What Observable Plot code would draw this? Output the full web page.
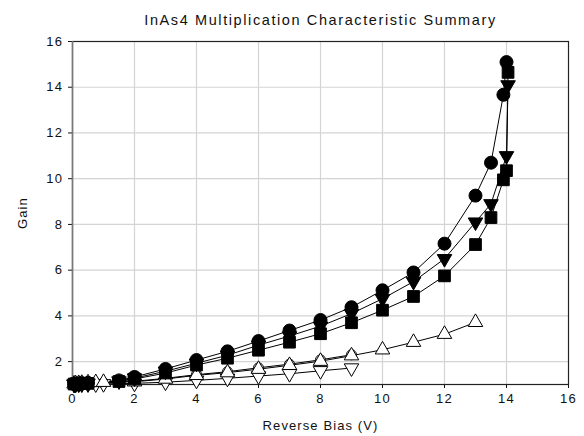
<!DOCTYPE html>
<html>
<head>
<meta charset="utf-8">
<script src="https://cdn.jsdelivr.net/npm/d3@7"></script>
<script src="https://cdn.jsdelivr.net/npm/@observablehq/plot@0.6"></script>
<style>
  html, body { margin: 0; padding: 0; background: #fff; }
  #chart svg { display: block; }
  #chart g[aria-label="x-axis tick label"] text,
  #chart g[aria-label="y-axis tick label"] text { letter-spacing: 1.4px; }
  #chart g[aria-label="x-axis label"] text,
  #chart g[aria-label="y-axis label"] text { letter-spacing: 1.1px; }
  #chart g.title-text text { letter-spacing: 1.6px; }
</style>
</head>
<body>
<div id="chart"></div>
<script>
// ---- data ----
const title = "InAs4 Multiplication Characteristic Summary";
const xLabel = "Reverse Bias (V)";
const yLabel = "Gain";
const xTicks = [0, 2, 4, 6, 8, 10, 12, 14, 16];
const yTicks = [2, 4, 6, 8, 10, 12, 14, 16];

const filledCircleX = [0.05, 0.1, 0.2, 0.3, 0.5, 1.5, 2, 3, 4, 5, 6, 7, 8, 9, 10, 11, 12, 13, 13.5, 13.9, 14.0];
const filledCircleG = [1.03, 1.04, 1.05, 1.06, 1.07, 1.18, 1.33, 1.68, 2.07, 2.45, 2.9, 3.36, 3.82, 4.38, 5.12, 5.9, 7.16, 9.26, 10.7, 13.67, 15.1];

const filledTriDownX = [0.05, 0.1, 0.2, 0.3, 0.5, 1.5, 2, 3, 4, 5, 6, 7, 8, 9, 10, 11, 12, 13, 13.5, 14.0, 14.05];
const filledTriDownG = [1.02, 1.03, 1.04, 1.05, 1.06, 1.15, 1.28, 1.58, 1.93, 2.28, 2.72, 3.12, 3.55, 4.1, 4.75, 5.5, 6.5, 8.1, 8.9, 11.0, 14.1];

const filledSquareX = [0.05, 0.1, 0.2, 0.3, 0.5, 1.5, 2, 3, 4, 5, 6, 7, 8, 9, 10, 11, 12, 13, 13.5, 13.9, 14.0, 14.05];
const filledSquareG = [1.02, 1.03, 1.04, 1.04, 1.05, 1.13, 1.24, 1.5, 1.85, 2.15, 2.5, 2.85, 3.22, 3.7, 4.25, 4.85, 5.75, 7.12, 8.3, 9.95, 10.35, 14.65];

const openCircleX = [0.05, 0.1, 0.2, 0.3, 0.5, 0.75, 1, 2, 3, 4, 5, 6, 7, 8, 9];
const openCircleG = [1.03, 1.04, 1.05, 1.05, 1.06, 1.07, 1.08, 1.14, 1.27, 1.43, 1.56, 1.73, 1.89, 2.08, 2.3];

const openTriUpX = [0.05, 0.1, 0.2, 0.3, 0.5, 0.75, 1, 2, 3, 4, 5, 6, 7, 8, 9, 10, 11, 12, 13];
const openTriUpG = [1.03, 1.04, 1.05, 1.06, 1.08, 1.09, 1.1, 1.12, 1.24, 1.4, 1.52, 1.67, 1.84, 2.02, 2.26, 2.52, 2.85, 3.2, 3.72];

const openTriDownX = [0.05, 0.1, 0.2, 0.3, 0.5, 0.75, 1, 2, 3, 4, 5, 6, 7, 8, 9];
const openTriDownG = [1.0, 1.0, 1.01, 1.01, 1.02, 1.02, 1.03, 1.05, 1.1, 1.18, 1.27, 1.37, 1.47, 1.6, 1.72];

// ---- build table ----
const triangleDown = {
  draw(context, size) {
    const y = -Math.sqrt(size / (Math.sqrt(3) * 3));
    context.moveTo(0, -y * 2);
    context.lineTo(-Math.sqrt(3) * y, y);
    context.lineTo(Math.sqrt(3) * y, y);
    context.closePath();
  }
};

const seriesDefs = [
  {name: "openCircle", xs: openCircleX, gs: openCircleG, symbol: "circle", fill: "white", r: 5},
  {name: "openTriDown", xs: openTriDownX, gs: openTriDownG, symbol: triangleDown, fill: "white", r: 5.4},
  {name: "openTriUp", xs: openTriUpX, gs: openTriUpG, symbol: "triangle", fill: "white", r: 5.4},
  {name: "filledSquare", xs: filledSquareX, gs: filledSquareG, symbol: "square", fill: "black", r: 6.6},
  {name: "filledTriDown", xs: filledTriDownX, gs: filledTriDownG, symbol: triangleDown, fill: "black", r: 5.4},
  {name: "filledCircle", xs: filledCircleX, gs: filledCircleG, symbol: "circle", fill: "black", r: 6.5}
];

const rows = [];
for (const s of seriesDefs) {
  s.xs.forEach((x, i) => rows.push({series: s.name, x, g: s.gs[i]}));
}

const font = "Liberation Sans, Arial, sans-serif";
const marks = [
  Plot.gridX(xTicks.filter(d => d > 0 && d < 16), {stroke: "#d4d4d4", strokeOpacity: 1, strokeWidth: 1.2}),
  Plot.gridY(yTicks.filter(d => d < 16), {stroke: "#d4d4d4", strokeOpacity: 1, strokeWidth: 1.2}),
  Plot.axisX({ticks: xTicks, tickSize: 4, tickPadding: 5, fontSize: 13, label: xLabel, labelAnchor: "center", labelArrow: "none", labelOffset: 45, fontFamily: font}),
  Plot.axisY({ticks: yTicks, tickSize: 4, tickPadding: 5, fontSize: 13, label: yLabel, labelAnchor: "center", labelArrow: "none", labelOffset: 55, fontFamily: font}),
  Plot.frame({stroke: "#222", strokeWidth: 1.2}),
  Plot.ruleX([0], {stroke: "#777", strokeWidth: 1.5}),
  Plot.text([title], {frameAnchor: "top", dy: -27, fontSize: 14.5, fill: "#111", fontFamily: font, className: "title-text"})
];

for (const s of seriesDefs) {
  marks.push(Plot.line(rows.filter(d => d.series === s.name), {x: "x", y: "g", stroke: "black", strokeWidth: 1}));
}
for (const s of seriesDefs) {
  marks.push(Plot.dot(rows.filter(d => d.series === s.name), {x: "x", y: "g", symbol: () => s.symbol, r: s.r, fill: s.fill, stroke: "black", strokeWidth: 1}));
}

const chart = Plot.plot({
  width: 584,
  height: 436,
  marginLeft: 72,
  marginRight: 16,
  marginTop: 41,
  marginBottom: 52,
  style: {fontFamily: font, fontSize: "13px", color: "#111", background: "white"},
  x: {domain: [0, 16]},
  y: {domain: [1, 16]},
  symbol: {type: "identity"},
  marks
});
document.getElementById("chart").appendChild(chart);
</script>
</body>
</html>
